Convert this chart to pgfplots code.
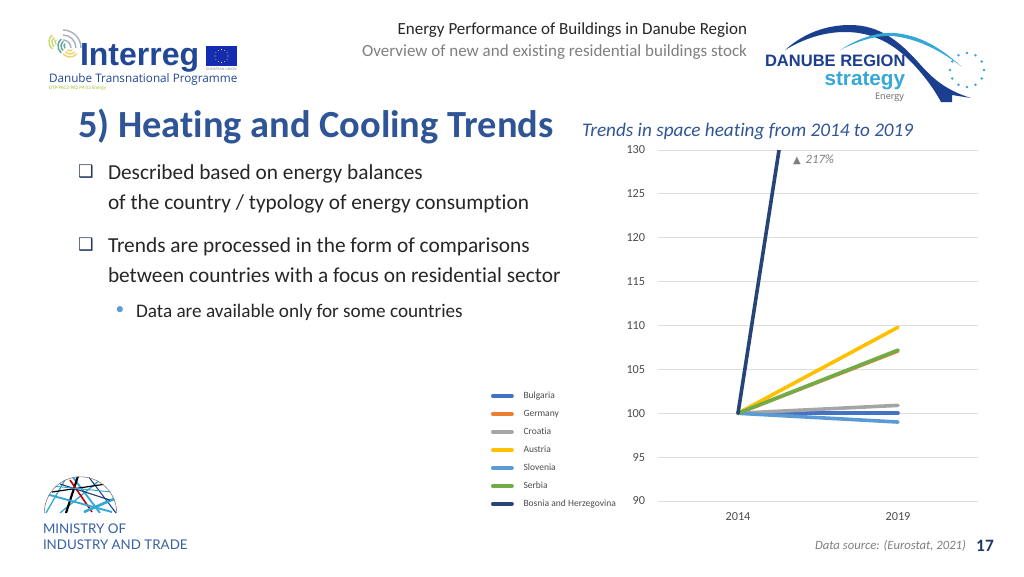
\documentclass[border=0pt]{standalone}
\usepackage{fontspec}
\usepackage{pgfplots}
\pgfplotsset{compat=1.18}
\setmainfont{Carlito}[Ligatures=CommonOff]
\newfontfamily\sym{DejaVu Sans}
\newfontfamily\logo{Open Sans}
\newfontfamily\logob{Liberation Sans}
\newfontfamily\lato{Lato}
\definecolor{head}{HTML}{2F5597}
\definecolor{txt}{HTML}{262626}
\definecolor{graytxt}{HTML}{7F7F7F}
\definecolor{navy}{HTML}{1F3864}
\definecolor{cBG}{HTML}{4472C4}
\definecolor{cDE}{HTML}{ED7D31}
\definecolor{cHR}{HTML}{A5A5A5}
\definecolor{cAT}{HTML}{FFC000}
\definecolor{cSI}{HTML}{5B9BD5}
\definecolor{cRS}{HTML}{70AD47}
\definecolor{cBA}{HTML}{264478}
\definecolor{arch}{HTML}{1B3F8F}
\definecolor{archl}{HTML}{35A8D8}
\definecolor{swa}{HTML}{C9D96A}
\definecolor{swb}{HTML}{5FA8A0}
\definecolor{swc}{HTML}{A9B3BC}
\definecolor{swd}{HTML}{F0D36B}
\pgfplotsset{slope/.style={solid,line width=2.7pt,line cap=round,mark=none}}
\begin{document}
\begin{tikzpicture}[x=0.75pt,y=-0.75pt,lbl/.style={inner sep=0pt,outer sep=0pt}]
\path[use as bounding box,fill=white] (0,0) rectangle (1024,576);

% header
\node[lbl,anchor=east,text=txt] at (747,30.5) {\fontsize{12.75pt}{14pt}\selectfont Energy Performance of Buildings in Danube Region};
\node[lbl,anchor=east,text=graytxt] at (747,52) {\fontsize{12.75pt}{14pt}\selectfont Overview of new and existing residential buildings stock};
\node[lbl,anchor=west,text=head] at (78,126) {\fontsize{28.8pt}{30pt}\selectfont\bfseries 5) Heating and Cooling Trends};
\node[lbl,anchor=west,text=head] at (582,131.5) {\fontsize{14.4pt}{16pt}\selectfont\itshape Trends in space heating from 2014 to 2019};

% bullets
\foreach \yy in {172,245}{
  \node[lbl,text=navy] at (86,\yy) {\sym\fontsize{13pt}{14pt}\selectfont ❑};
}
\node[lbl,anchor=west,text=txt] at (108,174) {\fontsize{16pt}{17pt}\selectfont Described based on energy balances};
\node[lbl,anchor=west,text=txt] at (108,204) {\fontsize{16pt}{17pt}\selectfont of the country / typology of energy consumption};
\node[lbl,anchor=west,text=txt] at (108,247) {\fontsize{16pt}{17pt}\selectfont Trends are processed in the form of comparisons};
\node[lbl,anchor=west,text=txt] at (108,275.5) {\fontsize{16pt}{17pt}\selectfont between countries with a focus on residential sector};
\node[lbl,text=cSI] at (120,311) {\fontsize{13pt}{15pt}\selectfont •};
\node[lbl,anchor=west,text=txt] at (136,312) {\fontsize{14.4pt}{16pt}\selectfont Data are available only for some countries};

% chart
\coordinate (org) at (658,501);
\begin{axis}[
    at={(org)},anchor=south west,
    scale only axis,width=240pt,height=263.25pt,
    xmin=-0.5,xmax=1.5,ymin=90,ymax=130,
    xtick={0,1},xticklabels={2014,2019},
    ytick={90,95,100,105,110,115,120,125,130},
    ymajorgrids=true,
    grid style={draw=black!13,line width=0.6pt},
    axis line style={draw=none},
    major tick style={draw=none},
    tick label style={font=\fontsize{9.2pt}{10pt}\selectfont,text=black!70},
    /pgf/number format/assume math mode=true,
    /pgf/number format/1000 sep={},
    yticklabel style={xshift=-6.1pt},
    xticklabel style={yshift=-5.4pt},
    legend style={at={(-0.5219,0)},anchor=south west,
      yshift=-6pt,
      draw=none,fill=none,inner sep=0pt,outer sep=0pt,
      font=\fontsize{7.15pt}{7.5pt}\selectfont,text=black!70,
      row sep=5.9pt,
      nodes={inner sep=0pt,outer sep=0pt,minimum height=7.6pt}},
    legend cell align=left,
    legend image code/.code={
      \draw[#1,line width=2.7pt,line cap=round] (0.6pt,0pt) -- (15pt,0pt);
      \path (22.3pt,0pt);
    },
]
\addplot[slope,color=cBG] coordinates {(0,100) (1,100.0)};
\addplot[slope,color=cDE] coordinates {(0,100) (1,107.1)};
\addplot[slope,color=cHR] coordinates {(0,100) (1,100.9)};
\addplot[slope,color=cAT] coordinates {(0,100) (1,109.8)};
\addplot[slope,color=cSI] coordinates {(0,100) (1,99.0)};
\addplot[slope,color=cRS] coordinates {(0,100) (1,107.2)};
\addplot[slope,color=cBA] coordinates {(0,100) (1,217)};
\legend{Bulgaria,Germany,Croatia,Austria,Slovenia,Serbia,Bosnia and Herzegovina}
\end{axis}
\node[lbl,anchor=west,text=graytxt] at (793,159.5) {{\sym\fontsize{7.5pt}{8pt}\selectfont ▲}\fontsize{9.5pt}{10pt}\selectfont\itshape\ \,217\%};

% footer
\node[lbl,anchor=east,text=graytxt] at (966,546) {\fontsize{9.5pt}{11pt}\selectfont\itshape Data source: (Eurostat, 2021)};
\node[lbl,text=navy] at (985,546) {\fontsize{13pt}{14pt}\selectfont\bfseries 17};

% Interreg logo
\foreach \r in {8,13,18}{
  \draw[swc,line width=1.1pt] (63,48) ++(270:\r) arc (270:360:\r);
}
\foreach \r in {3,6,9}{
  \draw[swa,line width=1.1pt] (58,42) ++(130:\r) arc (130:230:\r);
  \draw[swb,line width=1.1pt] (67,46) ++(130:\r) arc (130:230:\r);
  \draw[swd,line width=1.1pt] (70,48) ++(40:\r) arc (40:140:\r);
}
\node[lbl,anchor=west,text=arch!85!cBG] at (80,58) {\logob\fontsize{24pt}{26pt}\selectfont\bfseries Interreg};
\fill[arch!70!blue] (206,46) rectangle (237,66);
\foreach \a in {0,30,...,330}{
  \fill[yellow!85!orange] (221.5,56) ++(\a:6.5) circle (0.6);
}
\node[lbl,text=graytxt] at (221.5,69) {\logo\fontsize{2.6pt}{3pt}\selectfont EUROPEAN UNION};
\node[lbl,anchor=west,text=arch!85!cBG] at (49,79) {\logo\fontsize{8.8pt}{10pt}\selectfont Danube Transnational Programme};
\node[lbl,anchor=west,text=cRS!70!yellow] at (49,88) {\fontsize{3.8pt}{4pt}\selectfont DTP-PAC2-PA2 P4 02 Energy};

% Danube strategy logo
\fill[arch] (785,50) .. controls (805,32) and (828,25) .. (850,25)
   .. controls (880,25) and (900,42) .. (918,62)
   .. controls (932,78) and (945,90) .. (971,98) -- (952,95) -- (952,102) -- (941,102)
   .. controls (932,85) and (918,68) .. (905,56)
   .. controls (885,38) and (865,32) .. (845,32) .. controls (825,32) and (805,38) .. (785,50) -- cycle;
\fill[archl] (840,50) .. controls (862,36) and (880,32) .. (895,33)
   .. controls (925,36) and (945,52) .. (962,67)
   .. controls (940,50) and (918,39) .. (893,36) .. controls (878,35) and (860,40) .. (840,50) -- cycle;
\node[lbl,anchor=west,text=arch] at (765,61) {\logob\fontsize{12.4pt}{14pt}\selectfont\bfseries DANUBE REGION};
\node[lbl,anchor=east,text=archl] at (905,81) {\logob\fontsize{15.5pt}{17pt}\selectfont\bfseries strategy};
\node[lbl,anchor=east,text=black!60] at (904,97) {\logo\fontsize{6.8pt}{8pt}\selectfont Energy};
\foreach \a in {0,30,...,330}{
  \fill[archl] (967,70) ++(\a:17) circle (1.3);
}

% Ministry logo
\begin{scope}
\clip (44,513) arc (180:360:36.5) -- cycle;
\draw[archl,line width=1pt] (46,513) -- (66,478);
\draw[archl,line width=1pt] (60,513) -- (100,480);
\draw[archl,line width=1.4pt] (100,513) -- (72,476);
\draw[arch,line width=.8pt] (116,513) -- (88,476);
\draw[black,line width=1.6pt] (66,513) -- (78,476);
\draw[red!75!black,line width=1.2pt] (70,480) -- (92,512);
\draw[archl,line width=1.4pt] (46,494) -- (112,512);
\draw[archl,line width=2pt] (84,512) -- (116,498);
\draw[black,line width=0.9pt] (52,492) -- (106,484);
\draw[navy,line width=0.8pt] (60,484) -- (110,500);
\draw[archl,line width=.7pt] (52,486) -- (112,492);
\draw[black!50,line width=0.9pt] (44,513) arc (180:360:36.5);
\end{scope}
\node[lbl,anchor=west,text=head!85!cSI] at (43,529) {\lato\fontsize{10pt}{12pt}\selectfont MINISTRY OF};
\node[lbl,anchor=west,text=head!85!cSI] at (43,545) {\lato\fontsize{10pt}{12pt}\selectfont INDUSTRY AND TRADE};
\end{tikzpicture}
\end{document}
